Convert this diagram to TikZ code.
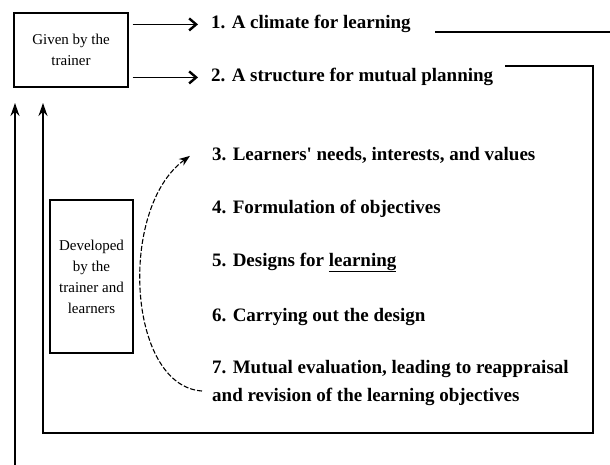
\documentclass[tikz,border=0pt]{standalone}
\usepackage{fontspec}
\setmainfont{Liberation Serif}
\usetikzlibrary{positioning,arrows.meta}

\begin{document}
\begin{tikzpicture}[x=1pt,y=-1pt,
  box/.style={draw, line width=1.2pt, align=center, inner sep=0pt, font=\fontsize{15}{21}\selectfont},
  item/.style={anchor=base west, inner sep=0pt, align=left, font=\bfseries\fontsize{19}{28}\selectfont},
  feed/.style={line width=1.3pt, -{Straight Barb[length=7pt,width=12pt,line width=2.4pt]}},
  upline/.style={line width=1.8pt, -{Stealth[length=13pt,width=9pt]}},
  dashcurve/.style={dash pattern=on 5pt off 2pt, line width=1.1pt, -{Stealth[length=11pt,width=8pt]}}]
\useasboundingbox (0,0) rectangle (610,465);
% boxes on the left
\node[box, minimum width=114, minimum height=74] (given) at (71,50) {Given by the\\trainer};
\node[box, minimum width=83, minimum height=153] (developed) at (91.5,276.5) {Developed\\by the\\trainer and\\learners};
% the seven steps
\node[item] (item1) at (211,29) {1. A climate for learning};
\node[item] (item2) at (211,82) {2. A structure for mutual planning};
\node[item] (item3) at (212,161) {3. Learners\textquotesingle{} needs, interests, and values};
\node[item] (item4) at (212,214) {4. Formulation of objectives};
\node[item] (item5) at (212,266) {5. Designs for \underline{learning}};
\node[item] (item6) at (212,321) {6. Carrying out the design};
\node[item] (item7) at (212,401) {7. Mutual evaluation, leading to reappraisal\\and revision of the learning objectives};
% given by the trainer
\draw[feed, shorten <=4pt, shorten >=13pt] (given.east |- item1.west) -- (item1.west);
\draw[feed, shorten <=4pt, shorten >=13pt] (given.east |- item2.west) -- (item2.west);
% feedback lines
\draw[line width=1.8pt] (435,32) -- (610,32);
\draw[upline] (15,465) -- (15,103);
\draw[upline] (505,66) -- (593,66) -- (593,433) -- (43,433) -- (43,103);
% cycle from 7 back to 3
\coordinate (from7) at ([xshift=-10pt,yshift=10pt]item7.base west);
\coordinate (to3) at ([xshift=-22pt]item3.west);
\draw[dashcurve] (from7) .. controls +(-75,-5) and +(-72,52) .. (to3);
\end{tikzpicture}
\end{document}
